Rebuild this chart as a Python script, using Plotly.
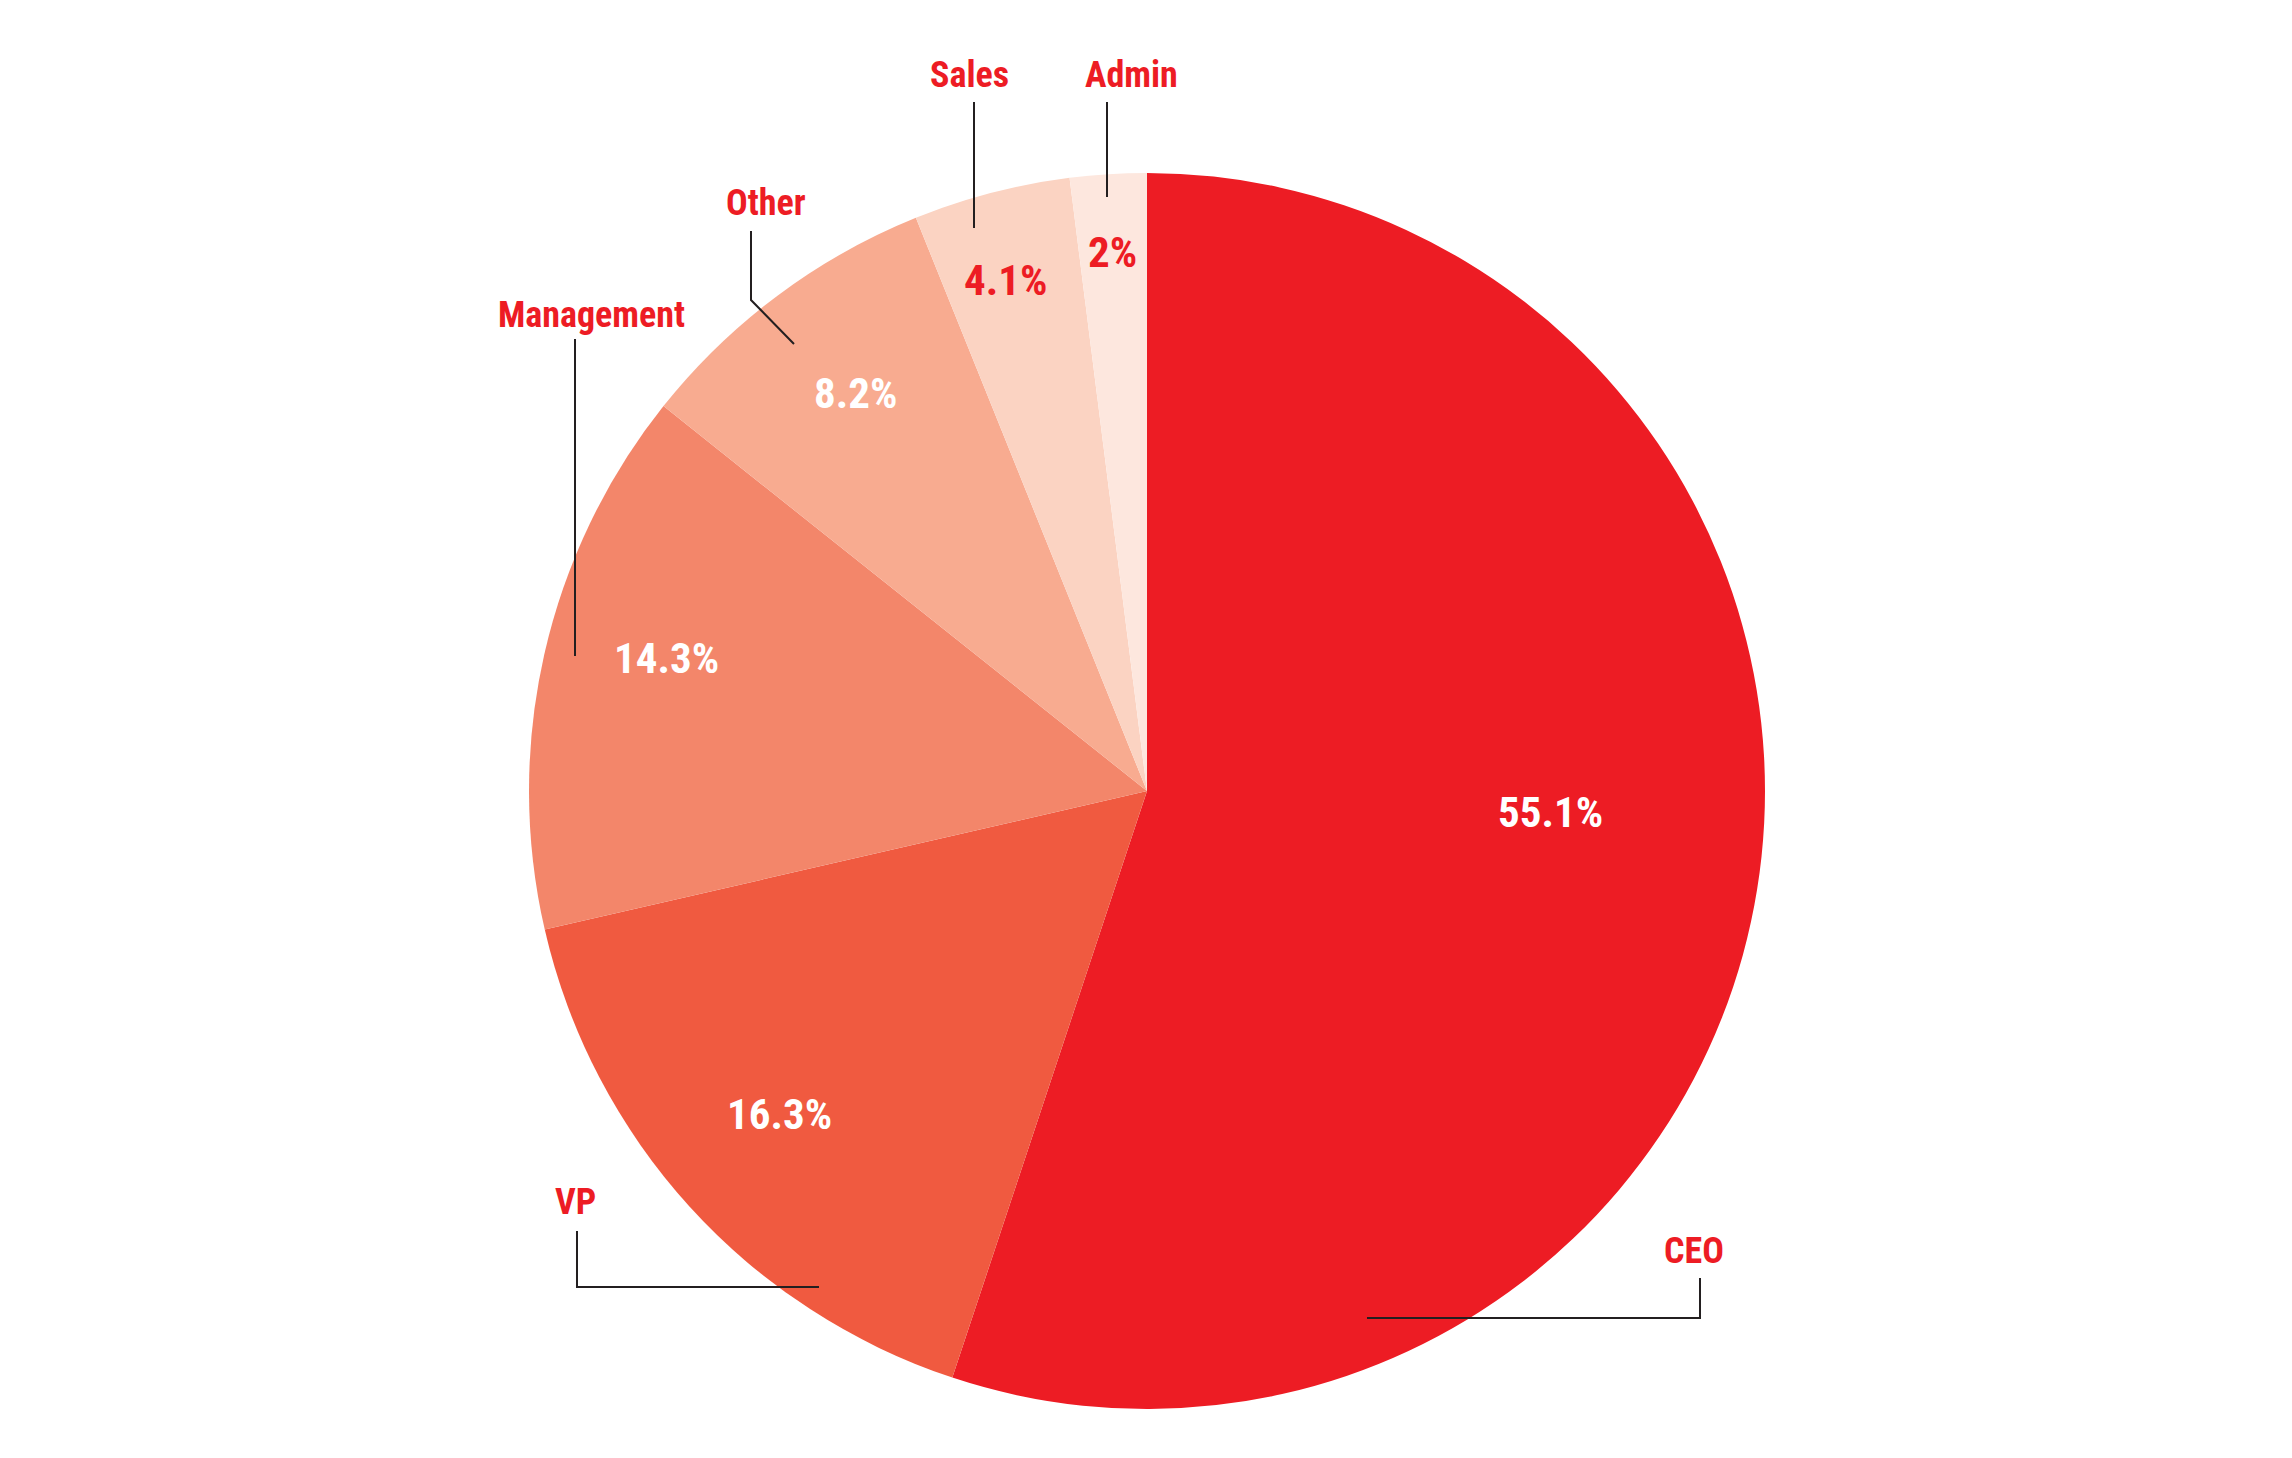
import plotly.graph_objects as go

# Data
roles = ['CEO', 'VP', 'Management', 'Other', 'Sales', 'Admin']
shares = [55.1, 16.3, 14.3, 8.2, 4.1, 2]
slice_colors = ['#ED1C24', '#F05A40', '#F3866A', '#F8AB90', '#FBD3C2', '#FDE7DE']
pct_text_colors = ['white', 'white', 'white', 'white', '#ED1C24', '#ED1C24']

# Page geometry: the figure div sits 8px inside the page (body margin)
OFFSET = 8
W, H = 2292 - 2 * OFFSET, 1458 - 2 * OFFSET
margin = dict(l=521, r=519, t=165, b=41)
plot_w = W - margin['l'] - margin['r']
plot_h = H - margin['t'] - margin['b']


def to_paper(x, y):
    # page pixel -> paper coords
    return (x - OFFSET - margin['l']) / plot_w, (H - margin['b'] - (y - OFFSET)) / plot_h


# Label placement (page pixel centres), leader lines as polylines
pct_pos = [(1550, 812), (779, 1114), (666, 658), (855, 393), (1005, 280), (1112, 252)]
name_pos = [(1694, 1251), (575, 1202), (591, 315), (766, 203), (969, 75), (1131, 75)]
leaders = [
    [(1700, 1278), (1700, 1318), (1367, 1318)],
    [(577, 1231), (577, 1287), (819, 1287)],
    [(575, 339), (575, 656)],
    [(751, 231), (751, 300), (794, 344)],
    [(974, 102), (974, 228)],
    [(1107, 102), (1107, 197)],
]

font_family = 'Roboto Condensed, Liberation Sans Narrow, DejaVu Sans Condensed, sans-serif'

fig = go.Figure(go.Pie(
    labels=roles,
    values=shares,
    sort=False,
    direction='clockwise',
    rotation=0,
    marker=dict(colors=slice_colors, line=dict(width=0)),
    textinfo='none',
    hoverinfo='skip',
    showlegend=False,
))

# Percent labels inside slices
for val, pos, col in zip(shares, pct_pos, pct_text_colors):
    px_, py_ = to_paper(*pos)
    fig.add_annotation(x=px_, y=py_, xref='paper', yref='paper', text=f"{val:g}%",
                       xanchor='center', yanchor='middle', showarrow=False,
                       font=dict(family=font_family, size=43, color=col, weight='bold'))

# Category labels outside
for name, pos in zip(roles, name_pos):
    px_, py_ = to_paper(*pos)
    fig.add_annotation(x=px_, y=py_, xref='paper', yref='paper', text=name,
                       xanchor='center', yanchor='middle', showarrow=False,
                       font=dict(family=font_family, size=36, color='#ED1C24', weight='bold'))

# Leader lines
for pts in leaders:
    paper_pts = [to_paper(*p) for p in pts]
    path = 'M ' + ' L '.join(f"{x:.5f},{y:.5f}" for x, y in paper_pts)
    fig.add_shape(type='path', path=path, xref='paper', yref='paper',
                  line=dict(color='#231F20', width=2))

fig.update_layout(
    paper_bgcolor='white',
    plot_bgcolor='white',
    margin=dict(l=margin['l'], r=margin['r'], t=margin['t'], b=margin['b'], pad=0),
)

fig.write_html("out.html")
